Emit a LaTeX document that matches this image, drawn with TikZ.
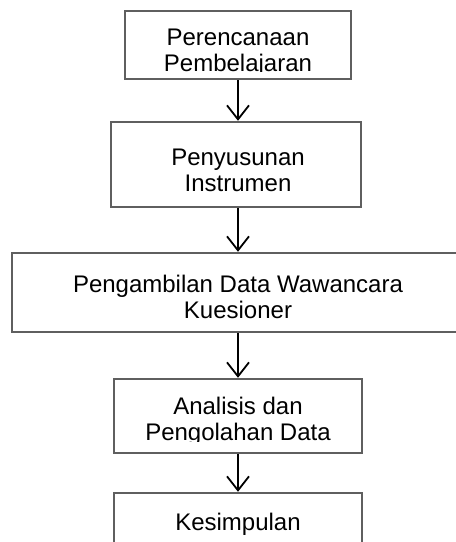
\documentclass[tikz,border=0pt]{standalone}
\usepackage{fontspec}
\setmainfont{Liberation Sans}
\usetikzlibrary{arrows.meta}
\begin{document}
\begin{tikzpicture}[x=1pt,y=-1pt,
  box/.style={draw=boxgray, line width=2.4pt, fill=white, inner sep=0pt},
  txt/.style={inner sep=0pt, anchor=base, font=\fontsize{24}{26.5}\selectfont, text=black},
  flow/.style={draw=black, line width=1.8pt, -{Straight Barb[length=14pt,width=22pt,line width=1.8pt]}}]
\definecolor{boxgray}{HTML}{5F5F5F}
\useasboundingbox (0,0) rectangle (456,542);
\clip (0,0) rectangle (456,542);
\fill[white] (0,0) rectangle (456,542);
% boxes
\node[box, minimum width=226pt, minimum height=68pt] (b1) at (238,45) {};
\node[box, minimum width=250pt, minimum height=85pt] (b2) at (236,164.5) {};
\node[box, minimum width=452pt, minimum height=79pt] (b3) at (238,292.5) {};
\node[box, minimum width=248pt, minimum height=74pt] (b4) at (238,416) {};
\node[box, minimum width=248pt, minimum height=74pt] (b5) at (238,530) {};
% texts
\begin{scope}
  \clip (125,12) rectangle (351,71.5);
  \node[txt] (t1a) at (238,45.5) {Perencanaan};
  \node[txt] (t1b) at (238,71) {Pembelajaran};
\end{scope}
\node[txt] (t2a) at (238,165) {Penyusunan};
\node[txt] (t2b) at (238,191) {Instrumen};
\node[txt] (t3a) at (238,292) {Pengambilan Data Wawancara};
\node[txt] (t3b) at (238,318) {Kuesioner};
\begin{scope}
  \clip (115,380) rectangle (361,441.5);
  \node[txt] (t4a) at (238,414) {Analisis dan};
  \node[txt] (t4b) at (238,440.5) {Pengolahan Data};
\end{scope}
\node[txt] (t5a) at (238,530) {Kesimpulan};
% connectors
\draw[flow] (b1.south -| 238,0) -- (238,0 |- b2.north);
\draw[flow] (b2.south -| 238,0) -- (238,0 |- b3.north);
\draw[flow] (b3.south) -- (b4.north);
\draw[flow] (b4.south) -- (b5.north);
\end{tikzpicture}
\end{document}
